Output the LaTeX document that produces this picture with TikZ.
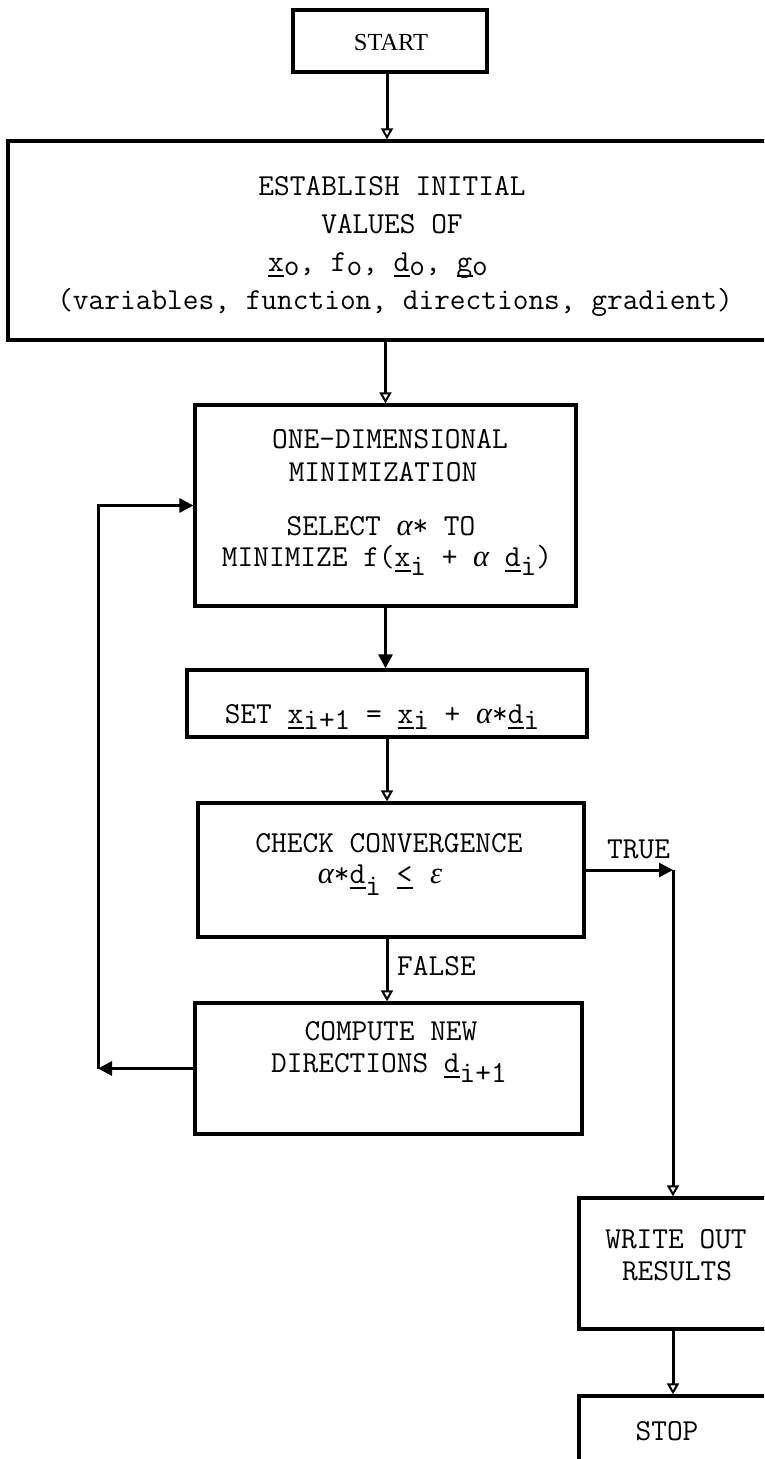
\documentclass[tikz,border=0pt]{standalone}
\usepackage{fontspec}
\newfontfamily\gkf{Liberation Serif}
\usetikzlibrary{arrows.meta}
\newcommand\tul[1]{\rlap{\rule[-0.2em]{0.525em}{0.065em}}#1}
\newcommand\tlo[2][0.3em]{\raisebox{-#1}{#2}}
\newcommand\tal{\makebox[0.525em]{\gkf\itshape α}}
\newcommand\teps{\makebox[0.525em]{\gkf\itshape ε}}
\begin{document}
\begin{tikzpicture}[x=1pt,y=-1pt,
  box/.style={draw=black, line width=3.3pt, inner sep=0pt, rectangle},
  tw/.style={font=\ttfamily\fontsize{30.5}{32}\selectfont, inner sep=0pt, anchor=base},
  conn/.style={line width=3pt},
  otip/.style={-{Triangle[open,length=11pt,width=12pt,line width=2pt]}},
  ftip/.style={-{Triangle[length=14pt,width=14pt]}}]
\useasboundingbox (0,0) rectangle (764,1459);
\fill[white] (0,0) rectangle (764,1459);
\clip (0,0) rectangle (764,1459);

% boxes
\node[box, minimum width=194pt, minimum height=62pt] (start) at (390,41) {};
\node[box, minimum width=760pt, minimum height=199pt] (est) at (388,240.5) {};
\node[box, minimum width=381pt, minimum height=201pt] (one) at (385.5,505.5) {};
\node[box, minimum width=400pt, minimum height=67pt] (set) at (387,703.5) {};
\node[box, minimum width=386pt, minimum height=134pt] (check) at (391,870) {};
\node[box, minimum width=387pt, minimum height=131pt] (comp) at (388.5,1068.5) {};
\node[box, minimum width=188pt, minimum height=131pt] (write) at (673,1263.5) {};
\node[box, minimum width=188pt, minimum height=100pt] (stop) at (673,1446) {};

% texts
\node[inner sep=0pt, anchor=base, font=\gkf\fontsize{24.5}{27}\selectfont] (startT) at (391,50) {START};
\node[tw] (estA) at (392,195) {ESTABLISH INITIAL};
\node[tw] (estB) at (392,233) {VALUES OF};
\node[tw] (estC) at (378,271) {\tul{x}\tlo[0.15em]{o}, f\tlo[0.15em]{o}, \tul{d}\tlo[0.15em]{o}, \tul{g}\tlo[0.15em]{o}};
\node[tw] (estD) at (395,309) {(variables, function, directions, gradient)};

\node[tw] (oneA) at (390,448) {ONE-DIMENSIONAL};
\node[tw] (oneB) at (383,481) {MINIMIZATION};
\node[tw] (oneC) at (381,535) {SELECT \tal* TO};
\node[tw] (oneD) at (387,566) {MINIMIZE f(\tul{x}\tlo{i} + \tal{} \tul{d}\tlo{i})};

\node[tw] (setT) at (382,723) {SET \tul{x}\tlo[0.2em]{i+1} = \tul{x}\tlo[0.2em]{i} + \tal*\tul{d}\tlo[0.2em]{i}};

\node[tw] (checkA) at (389,852) {CHECK CONVERGENCE};
\node[tw] (checkB) at (381,883) {\tal*\tul{d}\tlo[0.4em]{i} \tul{<} \teps};

\node[tw] (compA) at (391,1040) {COMPUTE NEW};
\node[tw] (compB) at (389,1072) {DIRECTIONS \tul{d}\tlo[0.35em]{i+1}};

\node[tw] (writeA) at (676,1248) {WRITE OUT};
\node[tw] (writeB) at (677,1280) {RESULTS};
\node[tw] (stopT) at (667,1440) {STOP};

\node[tw, anchor=base west] (trueL) at (607,858) {TRUE};
\node[tw, anchor=base west] (falseL) at (397,975) {FALSE};

% connectors
\coordinate (lx) at (98,0);
\draw[conn, otip] (start.south -| set.south) -- (set.south |- est.north);
\draw[conn, otip] (one.north |- est.south) -- (one.north);
\draw[conn, ftip] (one.south) -- (one.south |- set.north);
\draw[conn, otip] (set.south) -- (set.south |- check.north);
\draw[conn, otip] (check.south -| set.south) -- (set.south |- comp.north);
\draw[conn, ftip] (comp.west) -- (comp.west -| lx) coordinate (lb);
\draw[conn, ftip] (lb) -- (lb |- one.west) -- (one.west);
\coordinate (tc) at (check.east -| write.north);
\draw[conn, ftip] (check.east) -- (tc);
\draw[conn, otip] (tc) -- (write.north);
\draw[conn, otip] (write.south) -- (stop.north);
\end{tikzpicture}
\end{document}
